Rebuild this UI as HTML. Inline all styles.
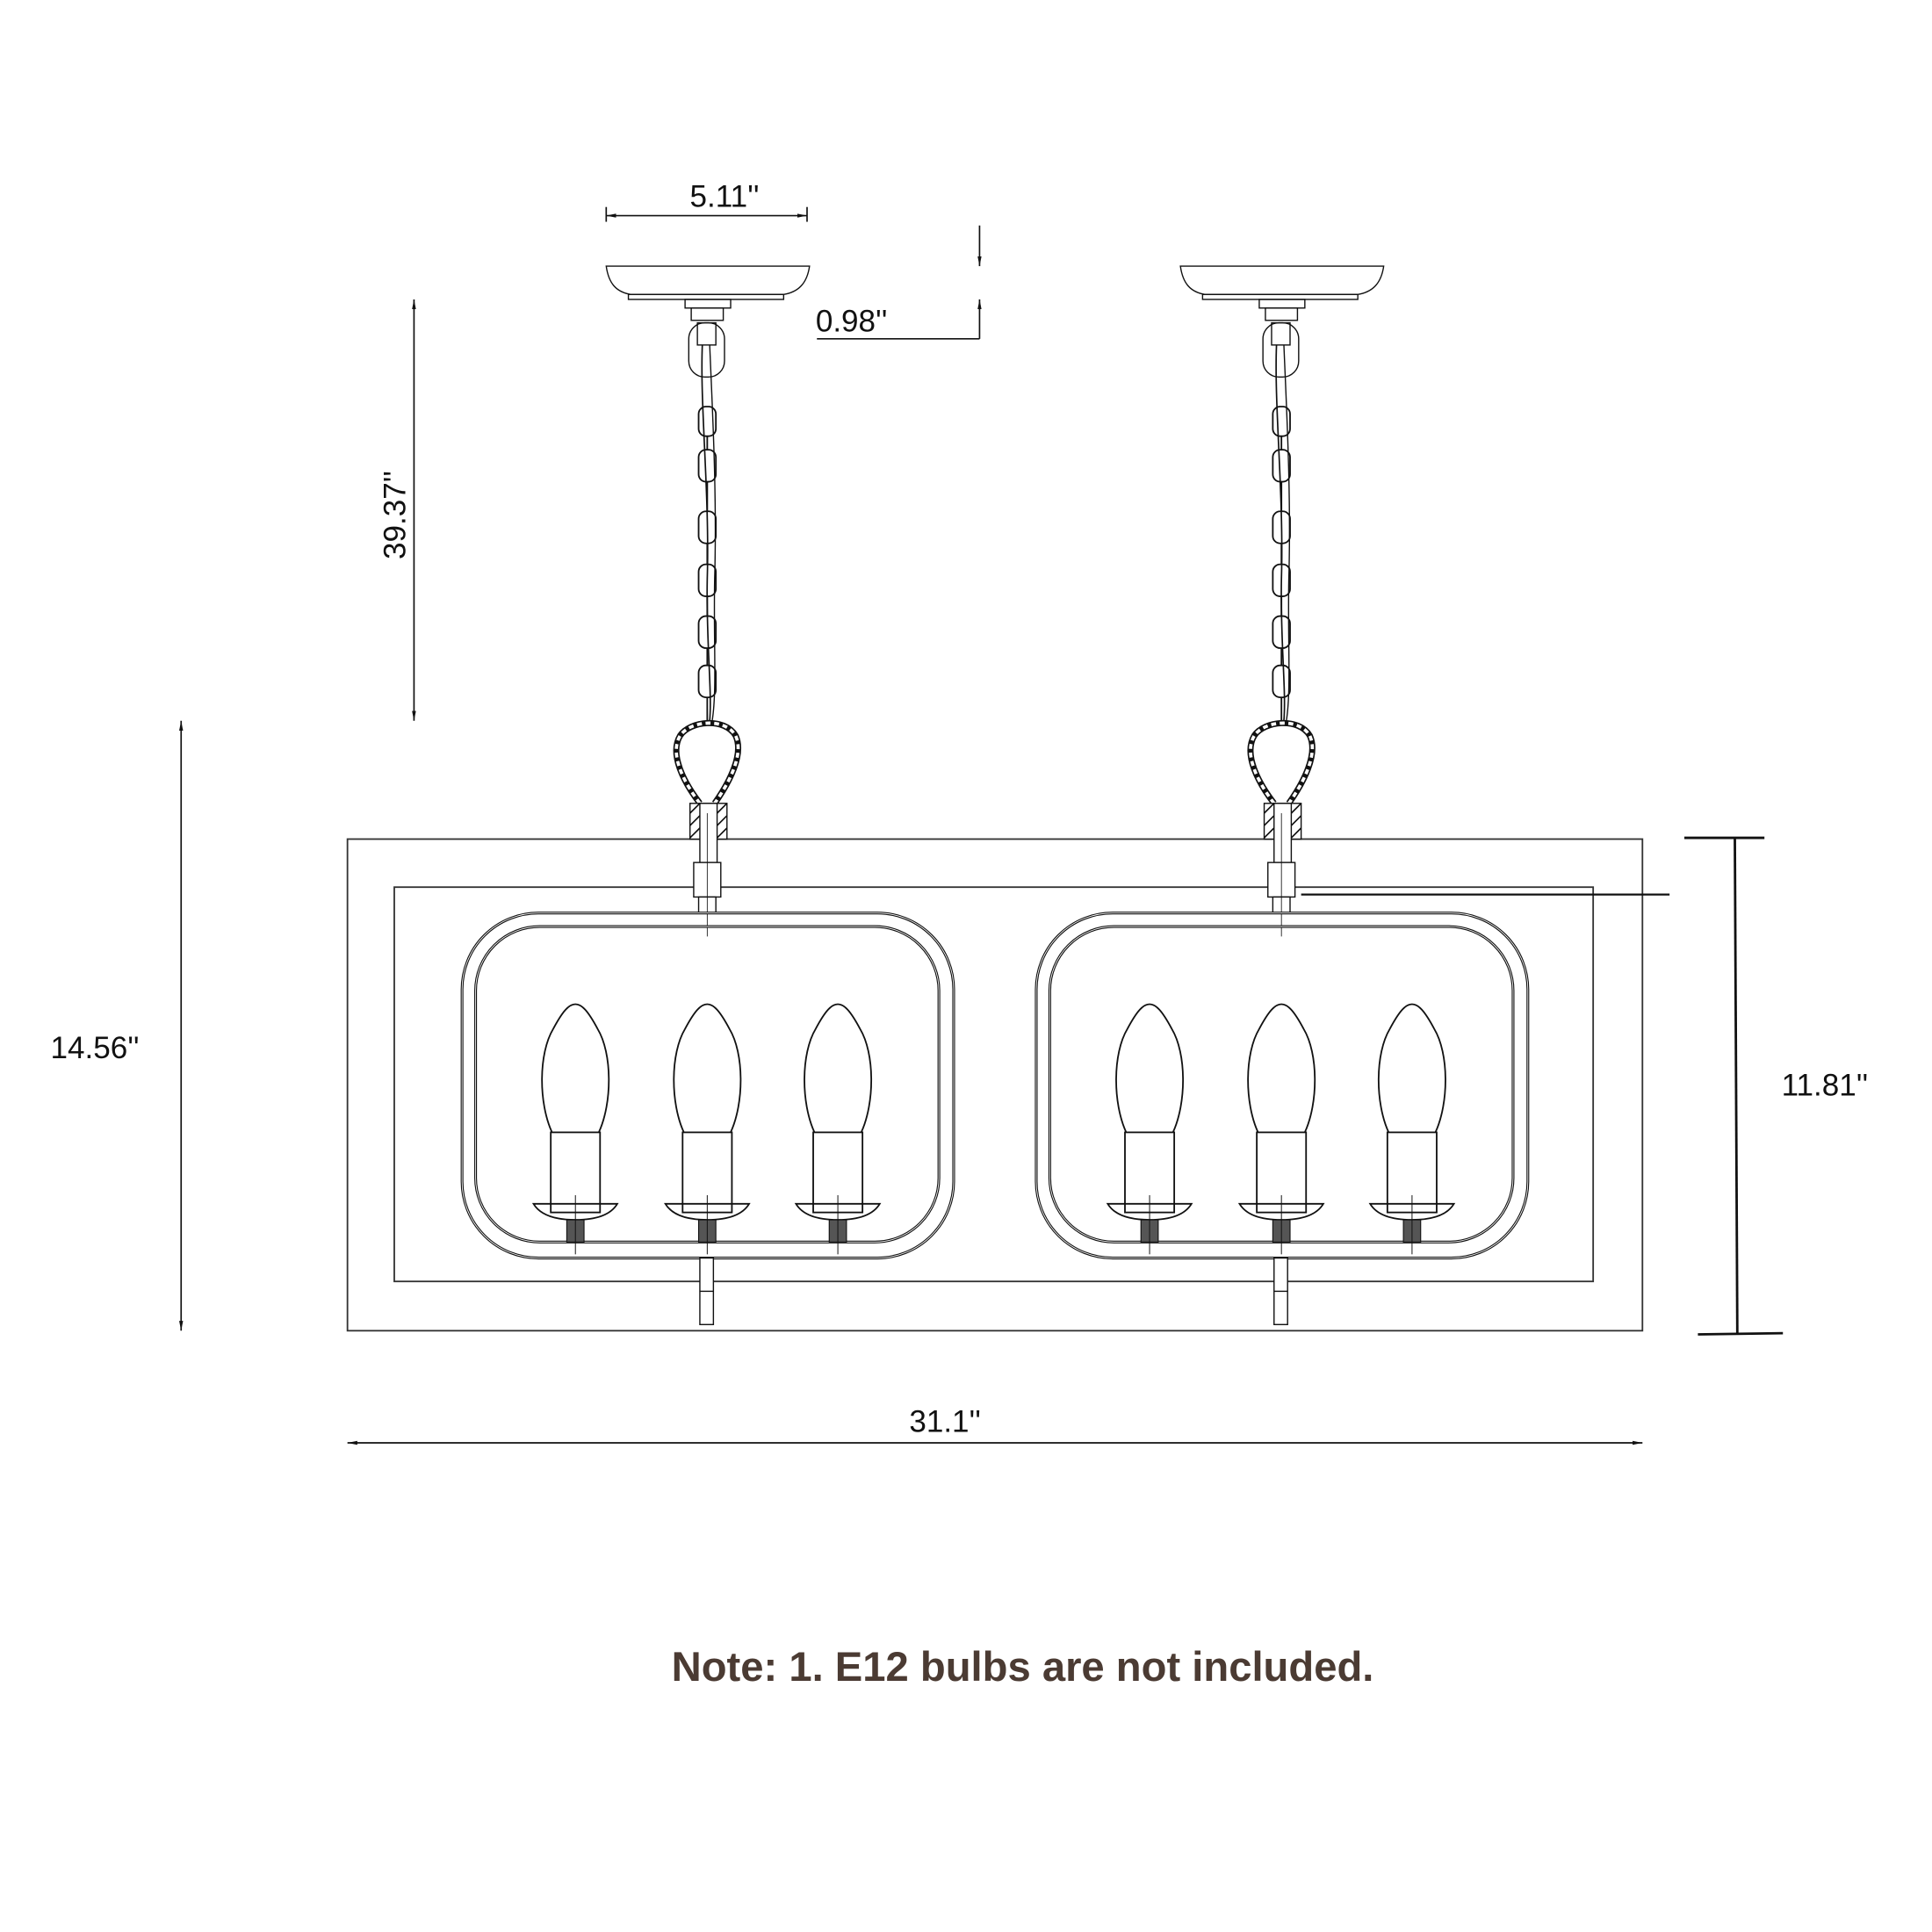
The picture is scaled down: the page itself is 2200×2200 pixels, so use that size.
<!DOCTYPE html>
<html><head><meta charset="utf-8"><style>
html,body{margin:0;padding:0;background:#fff;}
svg{display:block;}
text{font-family:"Liberation Sans",sans-serif;fill:#111;}
</style></head><body>
<svg width="2200" height="2200" viewBox="0 0 1568 1568" xmlns="http://www.w3.org/2000/svg">
<defs>
<marker id="ar" viewBox="0 0 10 10" refX="10" refY="5" markerWidth="8" markerHeight="8" orient="auto-start-reverse" markerUnits="userSpaceOnUse">
<path d="M0,3 L10,5 L0,7 Z" fill="#111"/></marker>
<g id="bulb" fill="none" stroke="#111" stroke-width="1.3">
<path d="M-19,919 C-30,895 -30,855 -18,835 C-10,820 -5,815 0,815 C5,815 10,820 18,835 C30,855 30,895 19,919"/>
<rect x="-20" y="919" width="40" height="65"/>
<path d="M-34,977 L34,977 C28,987 15,990 0,990 C-15,990 -28,987 -34,977 Z"/>
<rect x="-7" y="990" width="14" height="18" fill="#555" stroke-width="0.8"/>
<line x1="0" y1="970" x2="0" y2="1018" stroke-width="0.7"/>
</g>
<g id="fix" fill="none" stroke="#111" stroke-width="1">
<path d="M492,216 L657,216 C655,230 648,237 636,239 L512,239 C500,237 494,230 492,216 Z" fill="#fff"/>
<rect x="510" y="239" width="126" height="4"/>
<rect x="556" y="243" width="37" height="7"/>
<rect x="561" y="250" width="26" height="10"/>
<rect x="559" y="262" width="29" height="44" rx="13"/>
<rect x="566" y="262" width="15" height="18"/>
<path d="M570,280 C568,330 576,400 574,470 C573,520 578,560 576,585" stroke-width="1.2"/>
<path d="M576,280 C578,330 582,400 580,470 C579,520 582,560 578,585" stroke-width="1"/>
<g stroke-width="1.3">
<rect x="567" y="330" width="14" height="24" rx="6"/>
<rect x="567" y="365" width="14" height="26" rx="6"/>
<rect x="567" y="415" width="14" height="26" rx="6"/>
<rect x="567" y="458" width="14" height="26" rx="6"/>
<rect x="567" y="500" width="14" height="26" rx="6"/>
<rect x="567" y="540" width="14" height="26" rx="6"/>
<line x1="574" y1="354" x2="574" y2="365"/><line x1="574" y1="391" x2="574" y2="415"/>
<line x1="574" y1="441" x2="574" y2="458"/><line x1="574" y1="484" x2="574" y2="500"/>
<line x1="574" y1="526" x2="574" y2="540"/><line x1="574" y1="566" x2="574" y2="585"/>
</g>
<path d="M568,652 C555,635 543,612 552,597 C560,585 588,582 597,597 C604,612 592,635 580,652" stroke-width="5" stroke="#111"/>
<path d="M568,652 C555,635 543,612 552,597 C560,585 588,582 597,597 C604,612 592,635 580,652" stroke-width="2.6" stroke="#fff" stroke-dasharray="4 3"/>
<rect x="560" y="652" width="30" height="29" fill="#fff"/>
<path d="M560,660 l8,-8 M560,670 l8,-8 M560,680 l8,-8 M582,660 l8,-8 M582,670 l8,-8 M582,680 l8,-8" stroke-width="1.2"/>
<rect x="568" y="652" width="14" height="48" fill="#fff"/>
<rect x="563" y="700" width="22" height="28" fill="#fff"/>
<rect x="567" y="728" width="14" height="13" fill="#fff"/>
<line x1="574" y1="660" x2="574" y2="760" stroke-width="0.6"/>
<rect x="375" y="741" width="399" height="280" rx="62" stroke-width="2.2"/>
<rect x="375" y="741" width="399" height="280" rx="62" stroke="#fff" stroke-width="0.6"/>
<rect x="386" y="752" width="376" height="256" rx="52" stroke-width="2.2"/>
<rect x="386" y="752" width="376" height="256" rx="52" stroke="#fff" stroke-width="0.6"/>
<use href="#bulb" x="467"/>
<use href="#bulb" x="574"/>
<use href="#bulb" x="680"/>
<rect x="568" y="1021" width="11" height="54" fill="#fff"/>
<line x1="568" y1="1048" x2="579" y2="1048"/>
</g>
</defs>

<rect x="282" y="681" width="1051" height="399" fill="none" stroke="#333" stroke-width="1.3"/>
<rect x="320" y="720" width="973" height="320" fill="none" stroke="#333" stroke-width="1.3"/>

<use href="#fix"/>
<use href="#fix" x="466"/>

<g stroke="#111" stroke-width="1.2" fill="none">
<line x1="492" y1="175" x2="655" y2="175" marker-start="url(#ar)" marker-end="url(#ar)"/>
<line x1="492" y1="168" x2="492" y2="180"/><line x1="655" y1="168" x2="655" y2="180"/>
<line x1="795" y1="183" x2="795" y2="216" marker-end="url(#ar)"/>
<line x1="795" y1="275" x2="795" y2="243" marker-end="url(#ar)"/>
<line x1="663" y1="275" x2="795" y2="275"/>
<line x1="336" y1="243" x2="336" y2="585" marker-start="url(#ar)" marker-end="url(#ar)"/>
<line x1="147" y1="585" x2="147" y2="1080" marker-start="url(#ar)" marker-end="url(#ar)"/>
<line x1="1408" y1="681" x2="1410" y2="1082" stroke-width="2"/>
<line x1="1367" y1="680" x2="1432" y2="680" stroke-width="2"/>
<line x1="1378" y1="1083" x2="1447" y2="1082" stroke-width="2"/>
<line x1="1056" y1="726" x2="1355" y2="726" stroke-width="1.6"/>
<line x1="282" y1="1171" x2="1333" y2="1171" marker-start="url(#ar)" marker-end="url(#ar)"/>
</g>

<text x="588" y="168" font-size="25" text-anchor="middle">5.11''</text>
<text x="662" y="269" font-size="25">0.98''</text>
<text x="0" y="0" font-size="25" text-anchor="middle" transform="translate(329,418) rotate(-90)">39.37''</text>
<text x="77" y="859" font-size="25" text-anchor="middle">14.56''</text>
<text x="1481" y="889" font-size="25" text-anchor="middle">11.81''</text>
<text x="767" y="1162" font-size="25" text-anchor="middle">31.1''</text>
<text x="830" y="1364" font-size="34" font-weight="bold" text-anchor="middle" textLength="570" lengthAdjust="spacingAndGlyphs" style="fill:#4b3b33">Note: 1. E12 bulbs are not included.</text>
</svg>
</body></html>
